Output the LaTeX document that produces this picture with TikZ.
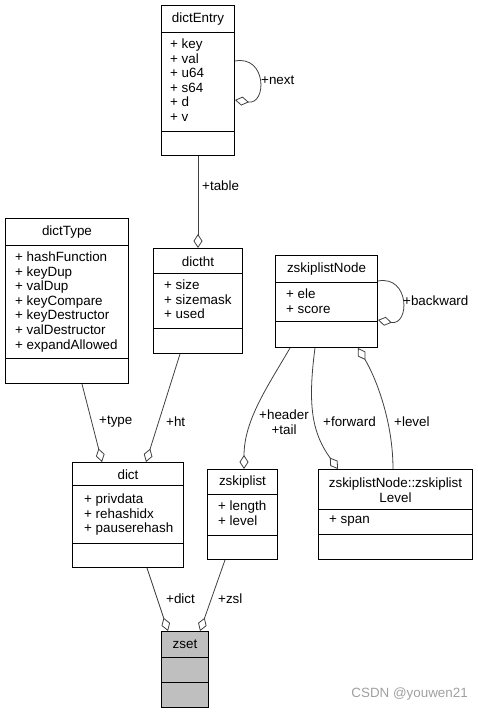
\documentclass[tikz,border=0pt]{standalone}
\usepackage{fontspec}
\setmainfont{Liberation Sans}
\usetikzlibrary{arrows.meta,calc}
\definecolor{EdgeGray}{HTML}{404040}
\definecolor{FocusGray}{HTML}{BFBFBF}
\definecolor{MarkGray}{HTML}{A0A0A0}

\begin{document}
\begin{tikzpicture}[x=1pt,y=-1pt,
    every node/.style={font=\fontsize{13.4}{14.6}\selectfont},
    cls/.style={draw=black,line width=1pt,fill=white,anchor=north west,inner sep=0pt},
    ttl/.style={inner sep=0pt,align=center},
    attrs/.style={anchor=north west,inner sep=0pt,align=left},
    rule/.style={draw=black,line width=1pt},
    agg/.style={draw=EdgeGray,line width=0.8pt,-{Diamond[open,length=14pt,width=9pt,line width=0.8pt]}},
    lbl/.style={anchor=west,inner sep=0pt}]
    \useasboundingbox (0,0) rectangle (478,713);

    % dictEntry
    \node[cls,minimum width=73pt,minimum height=150pt] (entry) at (161,5) {};
    \node[ttl] (entry-title) at ([yshift=-14.5pt]entry.north) {dictEntry};
    \draw[rule] ([yshift=-27pt]entry.north west) -- ([yshift=-27pt]entry.north east);
    \draw[rule] ([yshift=-126pt]entry.north west) -- ([yshift=-126pt]entry.north east);
    \node[attrs] (entry-attrs) at ([xshift=9pt,yshift=-33.5pt]entry.north west) {+ key\\+ val\\+ u64\\+ s64\\+ d\\+ v};

    % dictType
    \node[cls,minimum width=123pt,minimum height=165pt] (dtype) at (5,218) {};
    \node[ttl] (dtype-title) at ([yshift=-14.5pt]dtype.north) {dictType};
    \draw[rule] ([yshift=-27pt]dtype.north west) -- ([yshift=-27pt]dtype.north east);
    \draw[rule] ([yshift=-140pt]dtype.north west) -- ([yshift=-140pt]dtype.north east);
    \node[attrs] (dtype-attrs) at ([xshift=10pt,yshift=-33.5pt]dtype.north west) {+ hashFunction\\+ keyDup\\+ valDup\\+ keyCompare\\+ keyDestructor\\+ valDestructor\\+ expandAllowed};

    % dictht
    \node[cls,minimum width=89pt,minimum height=105pt] (ht) at (153,248) {};
    \node[ttl] (ht-title) at ([yshift=-13.5pt]ht.north) {dictht};
    \draw[rule] ([yshift=-25pt]ht.north west) -- ([yshift=-25pt]ht.north east);
    \draw[rule] ([yshift=-80pt]ht.north west) -- ([yshift=-80pt]ht.north east);
    \node[attrs] (ht-attrs) at ([xshift=11pt,yshift=-31.5pt]ht.north west) {+ size\\+ sizemask\\+ used};

    % zskiplistNode
    \node[cls,minimum width=102pt,minimum height=92pt] (znode) at (275,255) {};
    \node[ttl] (znode-title) at ([yshift=-14.5pt]znode.north) {zskiplistNode};
    \draw[rule] ([yshift=-27pt]znode.north west) -- ([yshift=-27pt]znode.north east);
    \draw[rule] ([yshift=-66pt]znode.north west) -- ([yshift=-66pt]znode.north east);
    \node[attrs] (znode-attrs) at ([xshift=11pt,yshift=-33.5pt]znode.north west) {+ ele\\+ score};

    % zskiplistNode::zskiplistLevel
    \node[cls,minimum width=154pt,minimum height=90pt] (zlevel) at (318,469) {};
    \node[ttl] (zlevel-title) at ([yshift=-21pt]zlevel.north) {zskiplistNode::zskiplist\\Level};
    \draw[rule] ([yshift=-40pt]zlevel.north west) -- ([yshift=-40pt]zlevel.north east);
    \draw[rule] ([yshift=-65pt]zlevel.north west) -- ([yshift=-65pt]zlevel.north east);
    \node[attrs] (zlevel-attrs) at ([xshift=11pt,yshift=-46.5pt]zlevel.north west) {+ span};

    % dict
    \node[cls,minimum width=111pt,minimum height=105pt] (dict) at (72,462) {};
    \node[ttl] (dict-title) at ([yshift=-12.5pt]dict.north) {dict};
    \draw[rule] ([yshift=-23pt]dict.north west) -- ([yshift=-23pt]dict.north east);
    \draw[rule] ([yshift=-81pt]dict.north west) -- ([yshift=-81pt]dict.north east);
    \node[attrs] (dict-attrs) at ([xshift=12pt,yshift=-31.5pt]dict.north west) {+ privdata\\+ rehashidx\\+ pauserehash};

    % zskiplist
    \node[cls,minimum width=70pt,minimum height=90pt] (zsl) at (207,469) {};
    \node[ttl] (zsl-title) at ([yshift=-13.5pt]zsl.north) {zskiplist};
    \draw[rule] ([yshift=-25pt]zsl.north west) -- ([yshift=-25pt]zsl.north east);
    \draw[rule] ([yshift=-66pt]zsl.north west) -- ([yshift=-66pt]zsl.north east);
    \node[attrs] (zsl-attrs) at ([xshift=11pt,yshift=-31.5pt]zsl.north west) {+ length\\+ level};

    % zset
    \node[cls,fill=FocusGray,minimum width=47pt,minimum height=76pt] (zset) at (161,631) {};
    \node[ttl] (zset-title) at ([yshift=-13.5pt]zset.north) {zset};
    \draw[rule] ([yshift=-26pt]zset.north west) -- ([yshift=-26pt]zset.north east);
    \draw[rule] ([yshift=-51pt]zset.north west) -- ([yshift=-51pt]zset.north east);

    % members
    \draw[agg] ([yshift=-56pt]entry.north east) .. controls +(32,-6) and +(32,5) .. ([yshift=-95pt]entry.north east);
    \node[lbl] (next-lbl) at (261,80) {+next};
    \draw[agg] ([xshift=37pt]entry.south west) -- ([xshift=45pt]ht.north west);
    \node[lbl] (table-lbl) at (202,186) {+table};
    \draw[agg] ([yshift=-26pt]znode.north east) .. controls +(32,-6) and +(32,6) .. ([yshift=-65pt]znode.north east);
    \node[lbl] (backward-lbl) at (403,301) {+backward};
    \draw[agg] ([xshift=77pt]dtype.south west) -- ([xshift=30pt]dict.north west);
    \node[lbl] (type-lbl) at (99,422) {+type};
    \draw[agg] ([xshift=27pt]ht.south west) -- ([xshift=74pt]dict.north west);
    \node[lbl] (ht-lbl) at (166,422) {+ht};
    \draw[agg] ([xshift=15pt]znode.south west) .. controls +(-22,38) and +(0,-49) .. ([xshift=37pt]zsl.north west);
    \node[ttl] (header-lbl) at (284,422) {+header\\+tail};
    \draw[agg] ([xshift=40pt]znode.south west) .. controls +(-8,60) and +(-25,-35) .. ([xshift=20pt]zlevel.north west);
    \node[lbl] (forward-lbl) at (323,422) {+forward};
    \draw[agg] ([xshift=75pt]zlevel.north west) .. controls +(0,-49) and +(17,28) .. ([xshift=83pt]znode.south west);
    \node[lbl] (level-lbl) at (394,422) {+level};
    \draw[agg] ([xshift=75pt]dict.south west) -- ([xshift=7pt]zset.north west);
    \node[lbl] (dict-lbl) at (166,599) {+dict};
    \draw[agg] ([xshift=18pt]zsl.south west) -- ([xshift=39pt]zset.north west);
    \node[lbl] (zsl-lbl) at (218,599) {+zsl};

    \node[anchor=east,inner sep=0pt,text=MarkGray] (mark) at (468,694) {CSDN @youwen21};
\end{tikzpicture}
\end{document}
